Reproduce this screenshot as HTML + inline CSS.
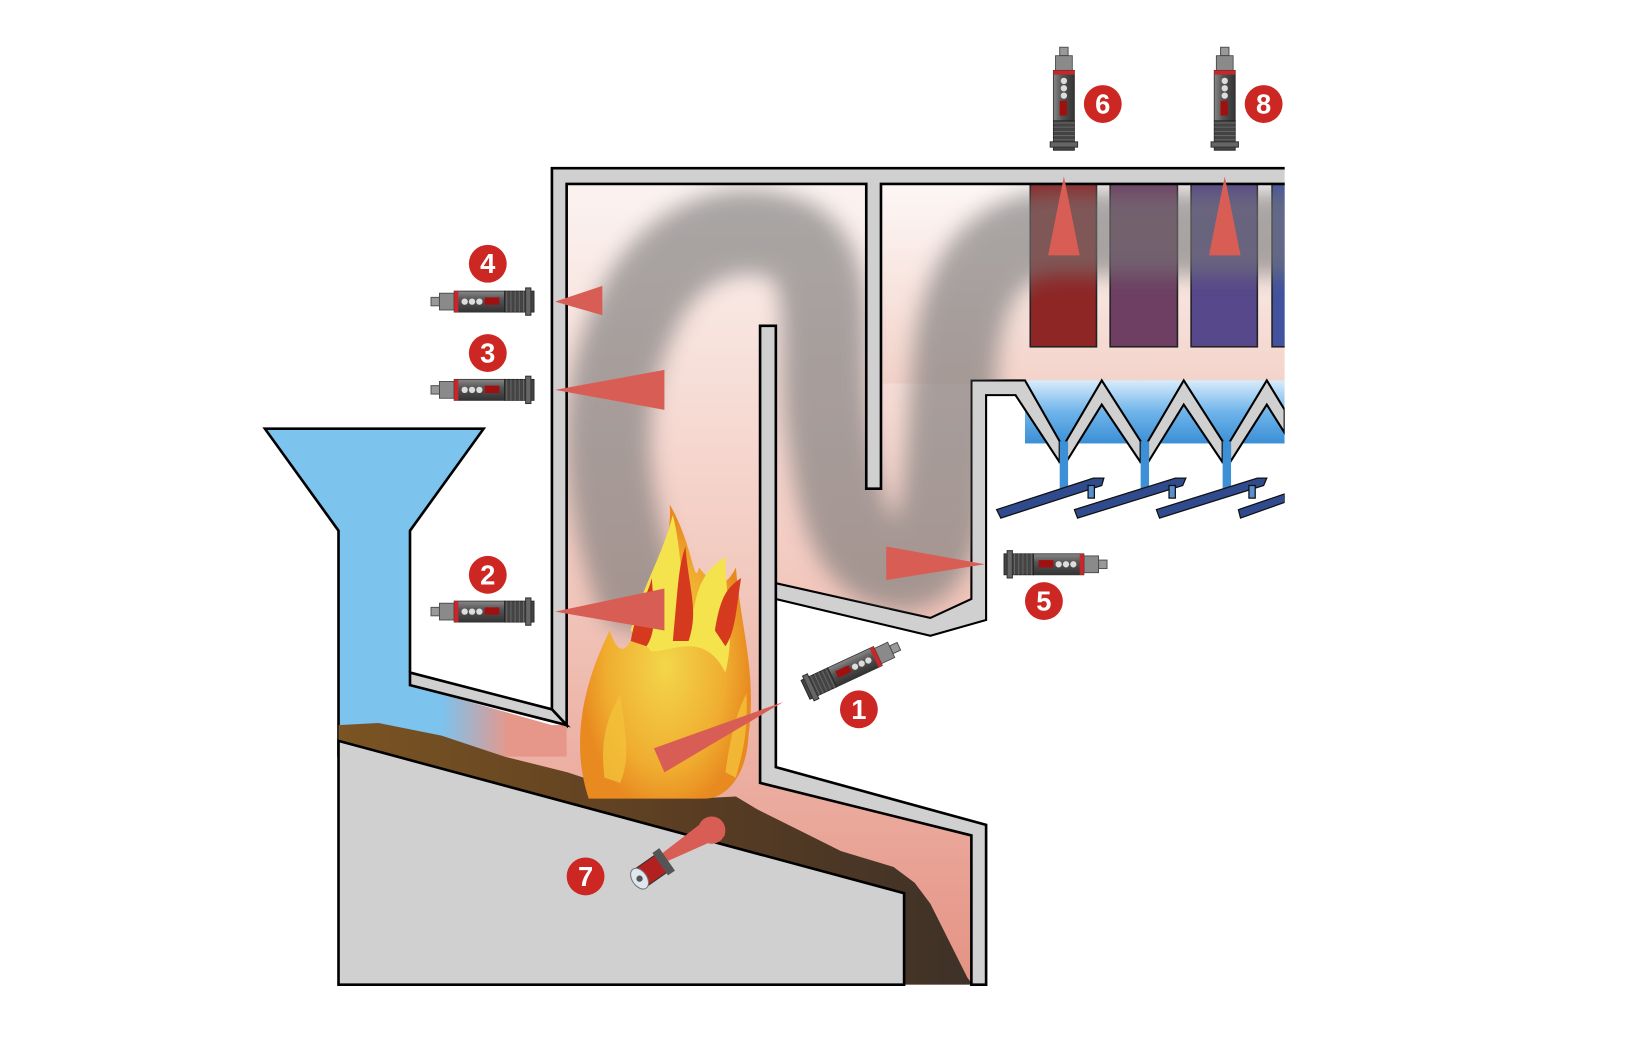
<!DOCTYPE html>
<html><head><meta charset="utf-8"><style>
html,body{margin:0;padding:0;background:#fff;width:1640px;height:1054px;overflow:hidden}
svg{display:block}
text{font-family:"Liberation Sans",sans-serif;font-weight:bold;fill:#fff}
</style></head><body>
<svg width="1640" height="1054" viewBox="0 0 1560 1003" preserveAspectRatio="none" xmlns="http://www.w3.org/2000/svg">
<defs>
<linearGradient id="gas" x1="0" y1="0" x2="0" y2="1">
<stop offset="0" stop-color="#fbf3f1"/><stop offset="0.5" stop-color="#f2c8bd"/><stop offset="1" stop-color="#e49283"/></linearGradient>
<linearGradient id="gas2" x1="0" y1="0" x2="0" y2="1">
<stop offset="0" stop-color="#fdf7f6"/><stop offset="1" stop-color="#f3d3ca"/></linearGradient>
<linearGradient id="blu" x1="0" y1="0" x2="0" y2="1">
<stop offset="0" stop-color="#d8ecfb"/><stop offset="0.5" stop-color="#6fb4ea"/><stop offset="1" stop-color="#3b8fd6"/></linearGradient>
<linearGradient id="bed" x1="0" y1="0" x2="1" y2="0">
<stop offset="0" stop-color="#7b5423"/><stop offset="0.55" stop-color="#5a3d22"/><stop offset="1" stop-color="#3e3128"/></linearGradient>
<linearGradient id="hop" x1="0" y1="0" x2="1" y2="0">
<stop offset="0" stop-color="#7cc3ee"/><stop offset="0.45" stop-color="#7cc3ee"/><stop offset="0.75" stop-color="#e6978a"/><stop offset="1" stop-color="#e6978a"/></linearGradient>
<radialGradient id="fire" cx="0.5" cy="0.55" r="0.5">
<stop offset="0" stop-color="#f3d64a"/><stop offset="0.7" stop-color="#f0ad30"/><stop offset="1" stop-color="#e88a20"/></radialGradient>
<filter id="blur" x="-20%" y="-20%" width="140%" height="140%"><feGaussianBlur stdDeviation="10"/></filter>
<filter id="blur2"><feGaussianBlur stdDeviation="4"/></filter>
<clipPath id="clipR"><rect x="0" y="0" width="1222" height="1003"/></clipPath>
<clipPath id="clipGas"><polygon points="539,175 824,175 824,465 838,465 838,175 1222,175 1222,362 924,362 924,570 885,588 738,555 738,310 723,310 723,745 525,745 539,690"/></clipPath>
<linearGradient id="sens" x1="0" y1="0" x2="0" y2="1">
<stop offset="0" stop-color="#888"/><stop offset="0.4" stop-color="#555"/><stop offset="1" stop-color="#333"/></linearGradient>
<g id="sensor">
<rect x="0" y="-4" width="8" height="8" fill="#999" stroke="#555"/>
<rect x="8" y="-8" width="14" height="16" fill="#8a8a8a" stroke="#444" stroke-width="0.8"/>
<rect x="22" y="-10" width="48" height="20" fill="url(#sens)" stroke="#333" stroke-width="0.8"/>
<rect x="22" y="-10" width="4" height="20" fill="#c8262a"/>
<circle cx="32" cy="0" r="3" fill="#ddd"/><circle cx="39" cy="0" r="3" fill="#ddd"/><circle cx="46" cy="0" r="3" fill="#ddd"/>
<rect x="51" y="-4" width="14" height="7" fill="#a01010"/>
<rect x="70" y="-10" width="28" height="20" fill="#444" stroke="#222" stroke-width="0.8"/>
<path d="M72 -10v20M76 -10v20M80 -10v20M84 -10v20M88 -10v20" stroke="#666"/>
<rect x="90" y="-13" width="5" height="26" fill="#666" stroke="#333"/>
</g>
</defs>

<g clip-path="url(#clipR)">
<polygon points="539,175 824,175 824,465 838,465 838,175 1222,175 1222,362 924,362 924,570 885,588 738,555 738,745 938,785 938,937 860,937 860,850 322,705 322,690 525,690 539,690" fill="url(#gas)"/>
<rect x="838" y="175" width="384" height="190" fill="url(#gas2)"/>
<polygon points="252,408 460,408 390,505 390,690 322,690 322,505" fill="#7cc3ee"/>
<polygon points="322,645 390,645 390,652 525,690 539,690 539,720 322,720" fill="url(#hop)"/>
<polyline points="322,720 322,505 252,408 460,408 390,505 390,640" fill="none" stroke="#000" stroke-width="2.5"/>
<polygon points="738,570 885,604 938,586 938,785 738,745" fill="#fff"/>
<polygon points="938,376 975,376 1222,376 1222,500 938,500" fill="#fff"/>

<rect x="980" y="175" width="63" height="155" fill="#8e2626" stroke="#222" stroke-width="1.5"/>
<rect x="1056" y="175" width="64" height="155" fill="#6e3f63" stroke="#222" stroke-width="1.5"/>
<rect x="1133" y="175" width="63" height="155" fill="#56488a" stroke="#222" stroke-width="1.5"/>
<rect x="1210" y="175" width="14" height="155" fill="#42529e" stroke="#222" stroke-width="1.5"/>

<rect x="975" y="362" width="247" height="60" fill="url(#blu)"/>
<g fill="#d0d0d0" stroke="#000" stroke-width="2">
<polygon points="924,362 975,362 1008,420 1008,440 1014,440 1014,420 1048,362 1085,420 1085,440 1092,440 1092,420 1126,362 1163,420 1163,440 1170,440 1170,420 1205,362 1222,390 1222,412 1205,385 1170,440 1163,440 1126,385 1092,440 1085,440 1048,385 1014,440 1008,440 966,376 938,376 938,590 885,605 738,570 738,555 885,588 924,570"/>
</g>
<g fill="#3d8fd6">
<rect x="1008" y="420" width="8" height="45"/><rect x="1085" y="420" width="8" height="45"/><rect x="1163" y="420" width="8" height="45"/>
</g>
<g fill="#2f4b8e" stroke="#111" stroke-width="1.2">
<polygon points="948,485 1040,455 1050,455 1048,462 952,493"/>
<polygon points="1022,485 1118,455 1128,455 1125,462 1025,493"/>
<polygon points="1100,485 1196,455 1205,455 1202,462 1103,493"/>
<polygon points="1178,485 1222,470 1222,478 1180,493"/>
<rect x="1035" y="462" width="6" height="12" fill="#5a8fd0"/><rect x="1112" y="462" width="6" height="12" fill="#5a8fd0"/><rect x="1188" y="462" width="6" height="12" fill="#5a8fd0"/>
</g>

<polygon points="322,690 360,688 420,700 480,720 540,735 600,755 660,760 700,758 720,770 760,790 800,810 850,825 870,840 885,860 900,890 920,930 925,937 860,937 860,850 322,705" fill="url(#bed)"/>
<polygon points="322,705 860,850 860,937 322,937" fill="#d0d0d0" stroke="#000" stroke-width="2.5"/>

<g clip-path="url(#clipGas)">
<g filter="url(#blur)" opacity="0.62">
<path d="M605,560 C575,470 565,380 605,300 C635,230 700,205 755,230 C800,260 775,340 790,420 C800,500 820,540 860,540 C905,540 900,420 910,330 C920,260 950,225 1000,222 L1240,222" fill="none" stroke="#777" stroke-width="80" stroke-linecap="round"/>
</g>
<g filter="url(#blur2)" opacity="0.35">
<path d="M985,225 L1230,225" stroke="#301830" stroke-width="40"/>
</g>
</g>

<g fill="#d0d0d0" stroke="#000" stroke-width="2.5">
<polygon points="525,160 1230,160 1230,175 838,175 838,465 824,465 824,175 539,175 539,690 525,675"/>
<polygon points="390,640 525,675 539,690 390,652"/>
<polygon points="723,310 738,310 738,555 738,570 738,730 938,785 938,937 924,937 924,795 723,745"/>
</g>
</g>

<g>
<path d="M560,760 C540,700 560,640 580,600 C590,630 600,620 610,580 C620,540 640,520 637,480 C660,520 660,560 665,540 C680,560 690,560 700,540 C705,600 720,640 712,700 C710,740 690,760 670,760 Z" fill="url(#fire)"/>
<path d="M600,600 C610,560 630,530 640,490 C650,530 645,560 660,580 C665,550 675,540 690,530 C690,570 700,600 690,640 C670,600 640,620 620,620 Z" fill="#f5e34e"/>
<path d="M640,610 C645,560 645,540 652,520 C655,560 665,580 655,610 Z M600,610 C605,580 615,570 620,550 C622,580 625,600 615,615 Z M680,600 C685,570 690,560 705,550 C700,580 700,600 690,615 Z" fill="#d63a1e"/>
<path d="M575,740 C570,700 580,680 590,660 C595,700 600,720 590,745 Z M690,735 C695,700 700,680 710,660 C712,700 705,720 700,740 Z" fill="#f2c23a" opacity="0.8"/>
</g>

<g fill="#d85e55">
<polygon points="528,287 573,272 573,300"/>
<polygon points="528,371 632,352 632,390"/>
<polygon points="528,582 632,560 632,600"/>
<polygon points="937,537 843,520 843,552"/>
<polygon points="745,668 622,712 632,735"/>
<polygon points="1012,168 997,243 1027,243"/>
<polygon points="1165,168 1150,243 1180,243"/>
<polygon points="600,835 665,785 690,795"/>
<circle cx="677" cy="790" r="13"/>
</g>

<use href="#sensor" transform="translate(410,287)"/>
<use href="#sensor" transform="translate(410,371)"/>
<use href="#sensor" transform="translate(410,582)"/>
<use href="#sensor" transform="translate(1053,537) scale(-1,1)"/>
<use href="#sensor" transform="translate(855,615) rotate(155) scale(1,-1)"/>
<use href="#sensor" transform="translate(1012,45) rotate(90) scale(1,-1)"/>
<use href="#sensor" transform="translate(1165,45) rotate(90) scale(1,-1)"/>
<g transform="translate(610,835) rotate(-35)">
<rect x="-2" y="-10" width="30" height="20" fill="#b32020" stroke="#333"/>
<rect x="22" y="-13" width="8" height="26" fill="#555"/>
<ellipse cx="-2" cy="0" rx="7" ry="11" fill="#dfe6ee" stroke="#777"/>
<circle cx="-2" cy="0" r="3" fill="#555"/>
</g>

<g fill="#cc2722">
<circle cx="464" cy="251" r="18"/><circle cx="464" cy="336" r="18"/><circle cx="464" cy="547" r="18"/>
<circle cx="817" cy="675" r="18"/><circle cx="993" cy="572" r="18"/><circle cx="1049" cy="99" r="18"/>
<circle cx="557" cy="834" r="18"/><circle cx="1202" cy="99" r="18"/>
</g>
<g font-size="26" text-anchor="middle">
<text x="464" y="260">4</text><text x="464" y="345">3</text><text x="464" y="556">2</text>
<text x="817" y="684">1</text><text x="993" y="581">5</text><text x="1049" y="108">6</text>
<text x="557" y="843">7</text><text x="1202" y="108">8</text>
</g>
</svg>
</body></html>
